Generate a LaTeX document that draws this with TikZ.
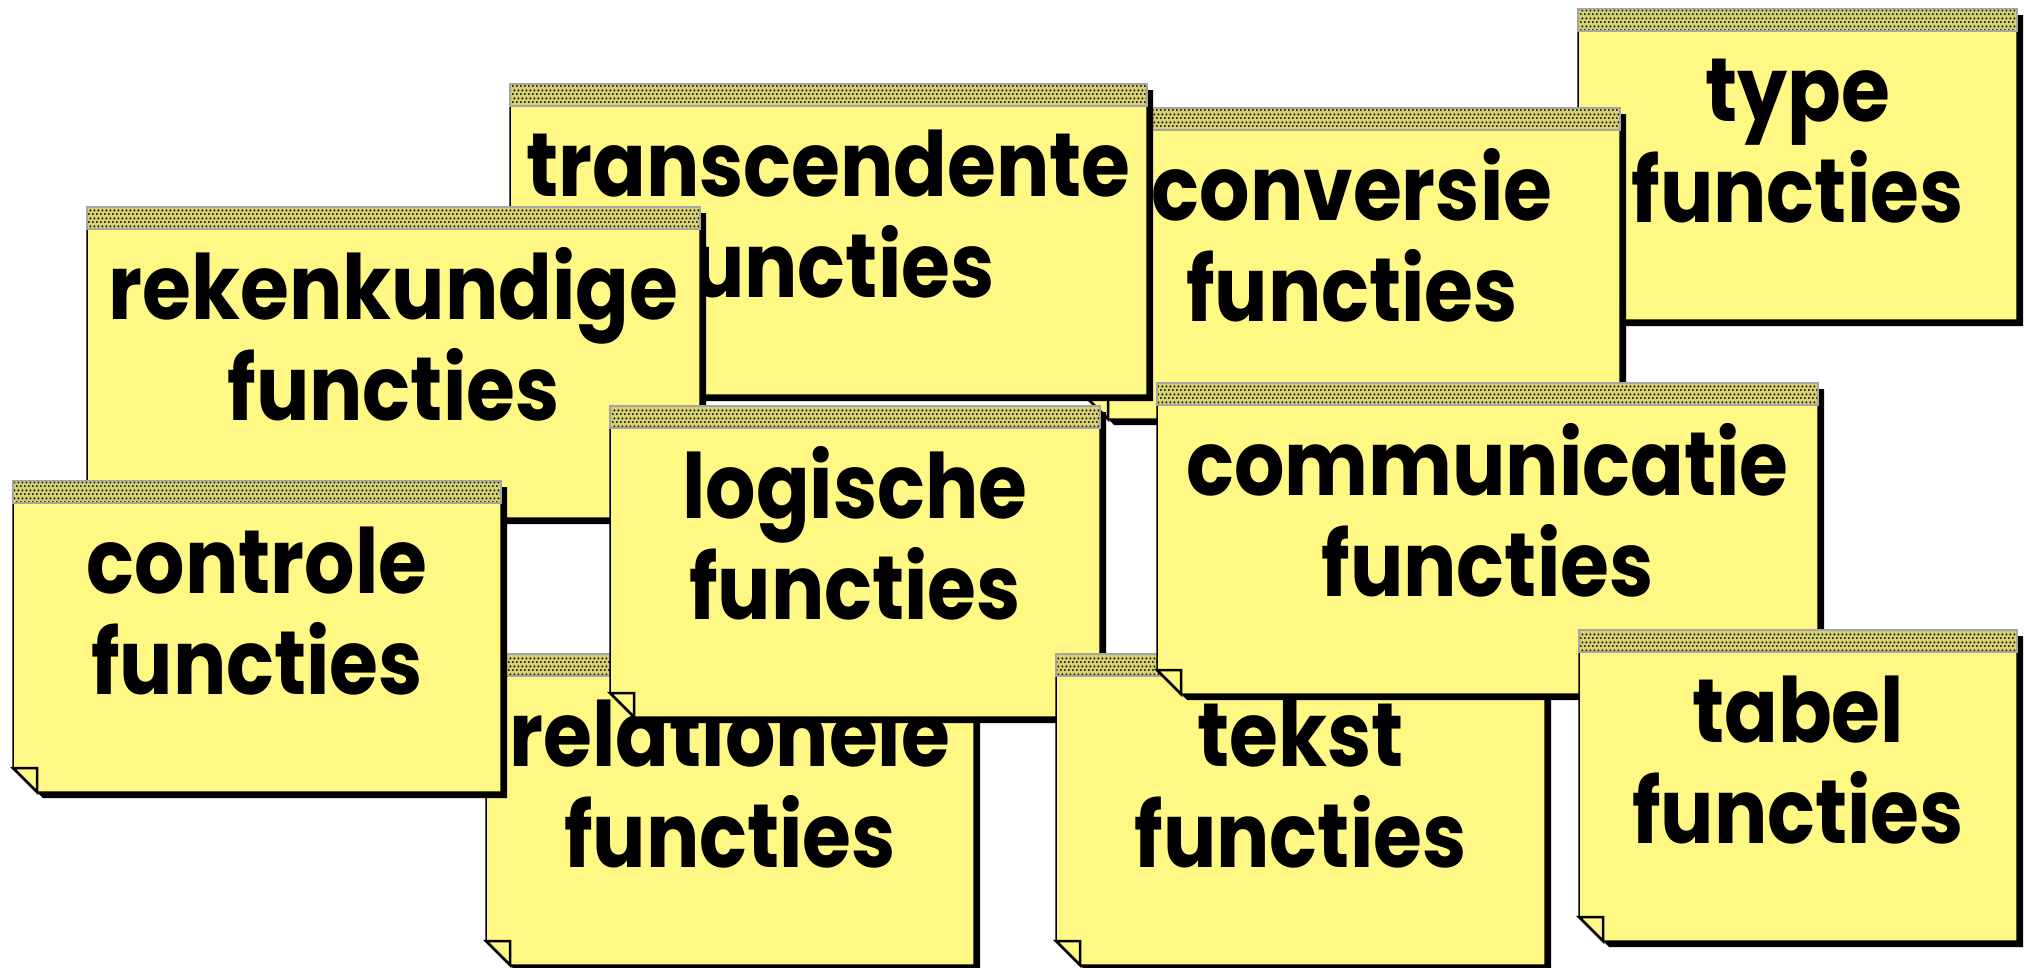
\documentclass[tikz,border=0pt]{standalone}
\usepackage{fontspec}
\usepackage{graphicx}
\usetikzlibrary{patterns.meta}
\newfontfamily\notefont{Poppins}

\definecolor{noteyellow}{RGB}{255,248,133}
\definecolor{stripbase}{RGB}{215,208,110}
\definecolor{stripgray}{RGB}{165,165,165}
\definecolor{dotdark}{RGB}{30,30,20}

% dense offset dots for the adhesive strip
\pgfdeclarepattern{
  name=stripdots,
  type=uncolored,
  bottom left={\pgfpoint{0pt}{0pt}},
  top right={\pgfpoint{4pt}{8pt}},
  tile size={\pgfpoint{4pt}{8pt}},
  code={
    \pgfpathcircle{\pgfpoint{1pt}{1pt}}{1.35pt}
    \pgfpathcircle{\pgfpoint{3pt}{5pt}}{1.35pt}
    \pgfusepath{fill}
  }
}

\newcommand\notelabel[1]{\scalebox{0.88}[1]{#1}}

\tikzset{
  noteshadow/.style={fill=black},
  notebody/.style={fill=noteyellow, draw=black, line width=1.5pt, line join=miter},
  notefold/.style={fill=noteyellow, draw=black, line width=2.5pt, line join=miter},
  notestripfill/.style={fill=stripbase},
  notestripdots/.style={pattern={stripdots}, pattern color=dotdark},
  notestripedge/.style={draw=stripgray, line width=2.5pt},
  notetext/.style={font=\notefont\bfseries\fontsize{90}{100}\selectfont,
    text=black, inner sep=0pt, anchor=base},
}

% #1 name, #2 left, #3 top, #4 right, #5 first line, #6 second line
\newcommand\stickynote[6]{%
  \begin{scope}[shift={(6,6)}]
    \fill[noteshadow] (#2,#3) -- (#4,#3) -- (#4,{#3+311}) -- ({#2+24},{#3+311})
      -- (#2,{#3+287}) -- cycle;
  \end{scope}
  \filldraw[notebody] (#2,#3) -- (#4,#3) -- (#4,{#3+311}) -- ({#2+24},{#3+311})
    -- (#2,{#3+287}) -- cycle;
  \filldraw[notefold] (#2,{#3+287}) -- ({#2+24},{#3+287}) -- ({#2+24},{#3+311}) -- cycle;
  \fill[notestripfill] (#2,#3) rectangle (#4,{#3+22});
  \fill[notestripdots] (#2,#3) rectangle (#4,{#3+22});
  \draw[notestripedge] (#2,#3) rectangle (#4,{#3+22});
  \node[notetext] (#1-top) at ({(#2+#4)/2},{#3+112}) {\notelabel{#5}};
  \node[notetext] (#1-bottom) at ({(#2+#4)/2},{#3+213}) {\notelabel{#6}};
}

\begin{document}
\begin{tikzpicture}[x=1pt, y=-1pt]
  \useasboundingbox (0,0) rectangle (2026,967);
  \stickynote{type}{1578}{9}{2017}{type}{functies}
  \stickynote{conversie}{1084}{108}{1620}{conversie}{functies}
  \stickynote{transcendente}{510}{84}{1147}{transcendente}{functies}
  \stickynote{rekenkundige}{87}{207}{700}{rekenkundige}{functies}
  \stickynote{relationele}{486}{654}{974}{relationele}{functies}
  \stickynote{controle}{13}{481}{501}{controle}{functies}
  \stickynote{logische}{610}{406}{1100}{logische}{functies}
  \stickynote{tekst}{1056}{654}{1545}{tekst}{functies}
  \stickynote{communicatie}{1157}{383}{1818}{communicatie}{functies}
  \stickynote{tabel}{1579}{630}{2017}{tabel}{functies}
\end{tikzpicture}
\end{document}
